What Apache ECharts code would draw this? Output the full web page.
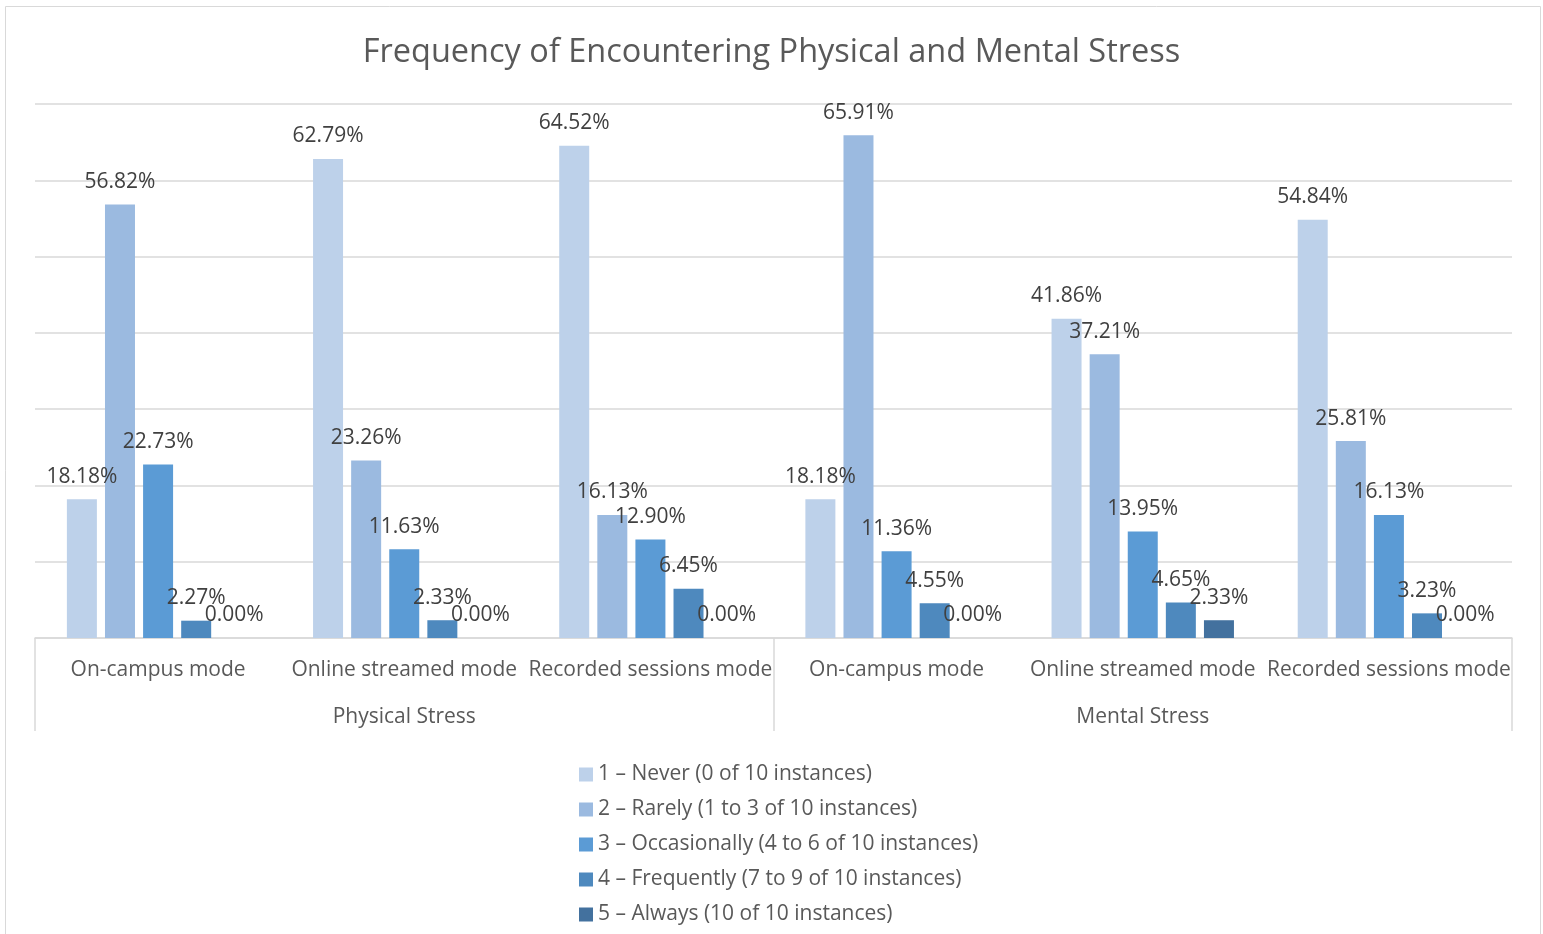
<!DOCTYPE html>
<html>
<head>
<meta charset="utf-8">
<script src="https://cdn.jsdelivr.net/npm/echarts@6/dist/echarts.min.js"></script>
<style>
  html, body { margin: 0; padding: 0; background: #fff; }
  #chart { width: 1543px; height: 934px; }
</style>
</head>
<body>
<div id="chart"></div>
<script>
// sub categories and groups
var modes = ['On-campus mode', 'Online streamed mode', 'Recorded sessions mode',
             'On-campus mode', 'Online streamed mode', 'Recorded sessions mode'];
var groups = ['Physical Stress', 'Mental Stress'];

var seriesNames = [
  '1 – Never (0 of 10 instances)',
  '2 – Rarely (1 to 3 of 10 instances)',
  '3 – Occasionally (4 to 6 of 10 instances)',
  '4 – Frequently (7 to 9 of 10 instances)',
  '5 – Always (10 of 10 instances)'
];

var never        = [18.18, 62.79, 64.52, 18.18, 41.86, 54.84];
var rarely       = [56.82, 23.26, 16.13, 65.91, 37.21, 25.81];
var occasionally = [22.73, 11.63, 12.90, 11.36, 13.95, 16.13];
var frequently   = [2.27, 2.33, 6.45, 4.55, 4.65, 3.23];
var always       = [0.00, 0.00, 0.00, 0.00, 2.33, 0.00];

var colors = ['#bdd1ea', '#9bbae0', '#5b9bd5', '#4e89be', '#43719e'];
var font = 'Open Sans';

var chart = echarts.init(document.getElementById('chart'));

function makeSeries(name, data, i) {
  return {
    name: name,
    type: 'bar',
    data: data,
    barWidth: 30,
    barGap: '27%',
    itemStyle: { color: colors[i] },
    label: {
      show: true,
      position: 'top',
      distance: 12,
      fontFamily: font,
      fontSize: 21,
      color: '#404040',
      formatter: function (p) { return p.value.toFixed(2) + '%'; }
    }
  };
}

var option = {
  animation: false,
  textStyle: { fontFamily: font },
  title: {
    text: 'Frequency of Encountering Physical and Mental Stress',
    left: 'center',
    top: 31,
    textStyle: { fontFamily: font, fontSize: 32.5, fontWeight: 'normal', color: '#595959' }
  },
  graphic: [{
    type: 'rect',
    shape: { x: 5.5, y: 6.5, width: 1535, height: 940 },
    style: { fill: 'none', stroke: '#d9d9d9', lineWidth: 1 },
    z: -1
  }],
  grid: { left: 35, right: 31, top: 104, bottom: 296 },
  legend: {
    orient: 'vertical',
    left: 574,
    top: 759,
    itemWidth: 14,
    itemHeight: 14,
    itemGap: 14,
    icon: 'rect',
    textStyle: { fontFamily: font, fontSize: 21, color: '#595959', lineHeight: 21 },
    data: seriesNames
  },
  xAxis: [{
    type: 'category',
    data: modes,
    axisLine: { lineStyle: { color: '#d9d9d9', width: 1.5 } },
    axisTick: { show: false },
    axisLabel: { fontFamily: font, fontSize: 21, color: '#595959', margin: 22, interval: 0 }
  }, {
    type: 'category',
    data: groups,
    position: 'bottom',
    axisLine: { show: false },
    axisTick: { show: true, length: 93, lineStyle: { color: '#d9d9d9', width: 1.5 } },
    axisLabel: { fontFamily: font, fontSize: 21, color: '#595959', margin: 69 }
  }],
  yAxis: {
    type: 'value',
    min: 0,
    max: 70,
    interval: 10,
    axisLabel: { show: false },
    axisLine: { show: false },
    axisTick: { show: false },
    splitLine: { lineStyle: { color: '#d9d9d9', width: 1.5 } }
  },
  series: [
    makeSeries(seriesNames[0], never, 0),
    makeSeries(seriesNames[1], rarely, 1),
    makeSeries(seriesNames[2], occasionally, 2),
    makeSeries(seriesNames[3], frequently, 3),
    makeSeries(seriesNames[4], always, 4)
  ]
};

chart.setOption(option);
</script>
</body>
</html>
